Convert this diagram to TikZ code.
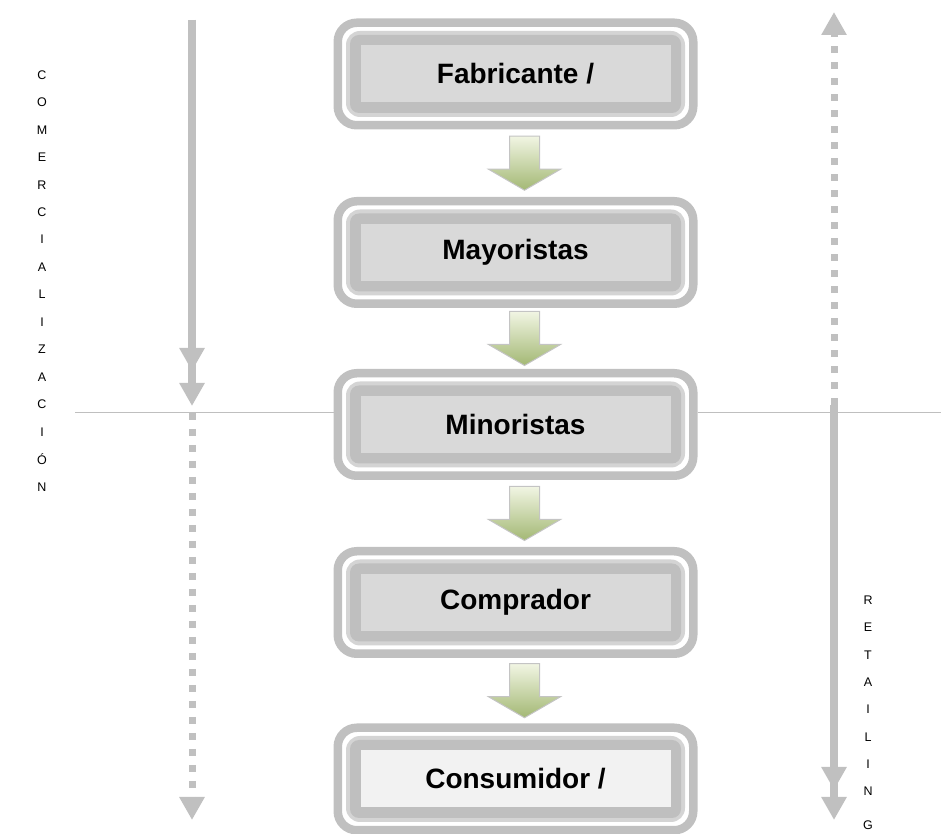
\documentclass[tikz,border=0pt]{standalone}
\usepackage{fontspec}
\setmainfont{Liberation Sans}
\usepackage{xcolor}
\definecolor{ringgray}{HTML}{C0C0C0}
\definecolor{lightring}{HTML}{D4D4D4}
\definecolor{bandgray}{HTML}{BFBFBF}
\definecolor{innergray}{HTML}{D9D9D9}
\definecolor{innerpale}{HTML}{F2F2F2}
\definecolor{flowtop}{HTML}{F1F5E3}
\definecolor{flowbottom}{HTML}{A3B874}
\definecolor{flowedge}{HTML}{C4C4C4}
\usepackage{tikz}
\usetikzlibrary{arrows.meta, calc}

\begin{document}
\begin{tikzpicture}[x=1pt, y=1pt,
    stage/.style={rectangle, draw=ringgray, line width=8.5pt, fill=white, rounded corners=19pt,
        minimum width=355.5pt, minimum height=102.5pt, inner sep=0pt,
        font=\bfseries\fontsize{28}{32}\selectfont,
        path picture={
            \fill[lightring, rounded corners=14pt] ($(path picture bounding box.south west)+(8.25,8.25)$) rectangle ($(path picture bounding box.north east)-(8.25,8.25)$);
            \fill[bandgray, rounded corners=9pt] ($(path picture bounding box.south west)+(12.25,12.25)$) rectangle ($(path picture bounding box.north east)-(12.25,12.25)$);
            \fill[#1, sharp corners] ($(path picture bounding box.south west)+(22.75,22.75)$) rectangle ($(path picture bounding box.north east)-(22.75,22.75)$);
        }},
    stage/.default=innergray,
    flowshade/.style={draw=flowedge, line width=1pt, top color=flowtop, bottom color=flowbottom},
    flowarrow/.pic={\path[flowshade] (-15,27) -- (15,27) -- (15,-6) -- (36,-6) -- (0,-27) -- (-36,-6) -- (-15,-6) -- cycle;},
    bigline/.style={draw=ringgray, line width=8pt, -{Triangle[length=23pt,width=24pt]}},
    dotline/.style={draw=ringgray, line width=7pt, dash pattern=on 7pt off 9pt, -{Triangle[length=23pt,width=24pt]}},
    sepline/.style={draw=bandgray, line width=1.5pt},
    letter/.style={font=\fontsize{12.5}{14}\selectfont, inner sep=0pt}
]
    \useasboundingbox (0,0) rectangle (941,834);

    % separation line
    \coordinate (hl) at (75,421.5);
    \coordinate (hr) at (941,421.5);

    % stages
    \node[stage] (fab) at (515.5,760) {Fabricante /};
    \node[stage] (may) at (515.5,581.5) {Mayoristas};
    \node[stage] (min) at (515.5,409.5) {Minoristas};
    \node[stage] (com) at (515.5,231.5) {Comprador};
    \node[stage=innerpale] (con) at (515.5,55) {Consumidor /};

    \draw[sepline] (hl) -- (hl -| min.west);
    \draw[sepline] (min.east |- hr) -- (hr);

    % flow between stages
    \pic (f1) at ($(fab.south)!0.5!(may.north)+(9,0)$) {flowarrow};
    \pic (f2) at ($(may.south)!0.5!(min.north)+(9,0)$) {flowarrow};
    \pic (f3) at ($(min.south)!0.5!(com.north)+(9,0)$) {flowarrow};
    \pic (f4) at ($(com.south)!0.5!(con.north)+(9,0)$) {flowarrow};

    % left: comercializacion
    \coordinate (ltop) at (192,814);
    \coordinate (lmid) at (192,428);
    \coordinate (lstart) at (192,421);
    \coordinate (lend) at (192,14);
    \draw[bigline] (ltop) -- ($(lmid)+(0,35)$);
    \draw[bigline] (ltop) -- (lmid);
    \draw[dotline] (lstart) -- (lend);

    % right: retailing
    \coordinate (rmid) at (834,429);
    \coordinate (rtop) at (834,822);
    \coordinate (rend) at (834,14);
    \draw[dotline] (rmid) -- (rtop);
    \draw[bigline] (rmid) -- ($(rend)+(0,30)$);
    \draw[bigline] (rmid) -- (rend);

    % vertical words
    \foreach \ch [count=\i] in {C,O,M,E,R,C,I,A,L,I,Z,A,C,I,Ó,N}
        \node[letter] (c\i) at (42,{759-27.45*(\i-1)}) {\ch};
    \foreach \ch/\yy [count=\i] in {R/600,E/627,T/655,A/682,I/709,L/737,I/764,N/791,G/825}
        \node[letter] (r\i) at (868,834-\yy) {\ch};
\end{tikzpicture}
\end{document}
